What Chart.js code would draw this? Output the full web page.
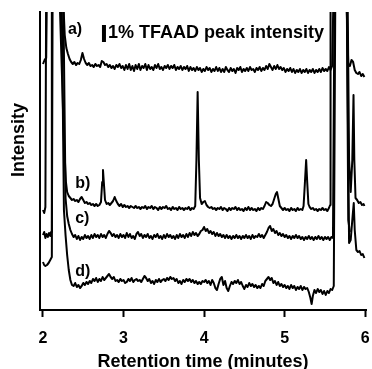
<!DOCTYPE html>
<html>
<head>
<meta charset="utf-8">
<script src="https://cdn.jsdelivr.net/npm/chart.js@4/dist/chart.umd.min.js"></script>
<style>
  body { margin: 0; background: #fff; }
  #wrap { width: 372px; height: 369px; }
</style>
</head>
<body>
<div id="wrap"><canvas id="chromChart" width="372" height="369"></canvas></div>
<script>
// Retention time (min) / intensity (arbitrary) pairs
const tickValues = [2, 3, 4, 5, 6];
const traceNames = ['a)', 'b)', 'c)', 'd)'];

const traceA = [[2.00,246],[2.02,250],[2.04,252],[2.05,330],[2.24,330],[2.27,275],[2.29,262],[2.31,256],[2.33,251],[2.35,248],[2.37,246],[2.39,248],[2.41,245],[2.43,247],[2.45,246],[2.47,250],[2.49,257],[2.51,251],[2.53,247],[2.55,245],[2.57,247],[2.59,244],[2.61,245],[2.63,243],[2.65,246],[2.67,244],[2.69,245],[2.71,243],[2.73,249],[2.75,248],[2.77,245],[2.79,246],[2.81,243],[2.83,245],[2.85,242],[2.87,244],[2.89,241],[2.91,245],[2.93,243],[2.95,246],[2.97,242],[2.99,244],[3.01,240],[3.03,245],[3.05,241],[3.07,246],[3.09,240],[3.11,244],[3.13,239],[3.15,245],[3.17,241],[3.19,246],[3.21,240],[3.23,244],[3.25,242],[3.27,246],[3.29,240],[3.31,245],[3.33,241],[3.35,243],[3.37,240],[3.39,245],[3.41,242],[3.43,246],[3.45,241],[3.47,243],[3.49,240],[3.51,244],[3.53,242],[3.55,245],[3.57,241],[3.59,244],[3.61,242],[3.63,245],[3.65,240],[3.67,243],[3.69,241],[3.71,244],[3.73,240],[3.75,243],[3.77,241],[3.79,244],[3.81,239],[3.83,243],[3.85,240],[3.87,242],[3.89,239],[3.91,243],[3.93,240],[3.95,242],[3.97,238],[3.99,241],[4.01,239],[4.03,243],[4.05,240],[4.07,242],[4.09,238],[4.11,241],[4.13,239],[4.15,243],[4.17,239],[4.19,242],[4.21,238],[4.23,241],[4.25,238],[4.27,243],[4.29,240],[4.31,238],[4.33,242],[4.35,239],[4.37,241],[4.39,237],[4.41,242],[4.43,240],[4.45,243],[4.47,238],[4.49,241],[4.51,239],[4.53,242],[4.55,239],[4.57,243],[4.59,240],[4.61,241],[4.63,238],[4.65,242],[4.67,240],[4.69,243],[4.71,239],[4.73,242],[4.75,240],[4.77,244],[4.79,241],[4.81,246],[4.83,243],[4.85,240],[4.87,244],[4.89,241],[4.91,245],[4.93,241],[4.95,243],[4.97,240],[4.99,242],[5.01,238],[5.03,241],[5.05,239],[5.07,242],[5.09,238],[5.11,241],[5.13,237],[5.15,240],[5.17,238],[5.19,241],[5.21,237],[5.23,240],[5.25,238],[5.27,241],[5.29,237],[5.31,240],[5.33,238],[5.35,241],[5.37,237],[5.39,240],[5.41,238],[5.43,241],[5.45,238],[5.47,242],[5.49,239],[5.51,241],[5.53,239],[5.55,243],[5.57,240],[5.59,244],[5.61,330],[5.76,330],[5.79,246],[5.81,244],[5.83,250],[5.85,248],[5.87,240],[5.89,237],[5.91,236],[5.93,238],[5.95,234],[5.97,236],[5.99,233]];

const traceB = [[2.00,100],[2.015,97],[2.03,103],[2.04,330],[2.20,330],[2.26,170],[2.285,128],[2.30,118],[2.32,114],[2.34,112],[2.36,110],[2.38,111],[2.40,109],[2.42,110],[2.44,108],[2.46,111],[2.48,113],[2.50,110],[2.52,107],[2.54,108],[2.56,106],[2.58,107],[2.60,105],[2.62,106],[2.64,104],[2.66,106],[2.68,104],[2.70,105],[2.72,108],[2.735,128],[2.745,140],[2.755,128],[2.77,110],[2.79,106],[2.81,107],[2.83,105],[2.85,107],[2.87,109],[2.89,113],[2.91,109],[2.93,106],[2.95,104],[2.97,106],[2.99,103],[3.01,105],[3.03,103],[3.05,104],[3.07,102],[3.09,104],[3.11,103],[3.13,102],[3.15,104],[3.17,102],[3.19,103],[3.21,101],[3.23,103],[3.25,102],[3.27,104],[3.29,101],[3.31,103],[3.33,102],[3.35,104],[3.37,101],[3.39,103],[3.41,102],[3.43,100],[3.45,103],[3.47,101],[3.49,103],[3.51,102],[3.53,104],[3.55,101],[3.57,102],[3.59,100],[3.61,103],[3.63,101],[3.65,102],[3.67,100],[3.69,103],[3.71,101],[3.73,102],[3.75,100],[3.77,102],[3.79,101],[3.81,103],[3.83,100],[3.85,102],[3.87,101],[3.89,104],[3.905,150],[3.92,218],[3.935,150],[3.95,112],[3.97,106],[3.99,108],[4.01,109],[4.03,105],[4.05,103],[4.07,102],[4.09,103],[4.11,101],[4.13,102],[4.15,100],[4.17,102],[4.19,101],[4.21,103],[4.23,100],[4.25,102],[4.27,101],[4.29,99],[4.31,102],[4.33,100],[4.35,102],[4.37,101],[4.39,103],[4.41,100],[4.43,102],[4.45,100],[4.47,101],[4.49,99],[4.51,102],[4.53,100],[4.55,103],[4.57,100],[4.59,102],[4.61,100],[4.63,101],[4.65,99],[4.67,102],[4.69,100],[4.71,102],[4.73,101],[4.75,104],[4.77,108],[4.79,107],[4.81,105],[4.83,104],[4.85,106],[4.87,111],[4.89,116],[4.905,118],[4.92,112],[4.94,104],[4.96,102],[4.98,100],[5.00,102],[5.02,100],[5.04,101],[5.06,99],[5.08,102],[5.10,100],[5.12,101],[5.14,99],[5.16,102],[5.18,100],[5.20,101],[5.22,100],[5.235,104],[5.25,125],[5.267,150],[5.28,128],[5.295,106],[5.31,103],[5.33,101],[5.35,102],[5.37,100],[5.39,101],[5.41,99],[5.43,101],[5.45,100],[5.47,102],[5.49,100],[5.51,101],[5.53,99],[5.55,102],[5.565,105],[5.57,330],[5.78,330],[5.80,150],[5.82,118],[5.84,150],[5.855,215],[5.865,150],[5.88,112],[5.90,110],[5.92,107],[5.94,108],[5.96,105],[5.98,106],[5.99,104]];

const traceC = [[2.00,75],[2.015,78],[2.03,72],[2.045,76],[2.06,73],[2.075,77],[2.09,74],[2.10,78],[2.11,330],[2.25,330],[2.28,112],[2.30,94],[2.32,86],[2.34,80],[2.36,76],[2.38,73],[2.40,75],[2.42,71],[2.44,74],[2.46,70],[2.48,73],[2.50,71],[2.52,75],[2.54,72],[2.56,74],[2.58,71],[2.60,75],[2.62,72],[2.64,76],[2.66,73],[2.68,75],[2.70,72],[2.72,76],[2.74,73],[2.76,75],[2.78,72],[2.80,76],[2.82,79],[2.84,77],[2.86,74],[2.88,76],[2.90,73],[2.92,75],[2.94,72],[2.96,76],[2.98,73],[3.00,75],[3.02,72],[3.04,77],[3.06,73],[3.08,76],[3.10,72],[3.12,74],[3.14,71],[3.16,76],[3.18,78],[3.20,74],[3.22,76],[3.24,72],[3.26,75],[3.28,73],[3.30,76],[3.32,72],[3.34,74],[3.36,71],[3.38,75],[3.40,73],[3.42,76],[3.44,72],[3.46,74],[3.48,71],[3.50,75],[3.52,72],[3.54,76],[3.56,73],[3.58,75],[3.60,72],[3.62,74],[3.64,71],[3.66,75],[3.68,72],[3.70,76],[3.72,73],[3.74,75],[3.76,72],[3.78,76],[3.80,73],[3.82,77],[3.84,74],[3.86,78],[3.88,75],[3.90,77],[3.92,74],[3.94,76],[3.96,79],[3.98,80],[4.00,83],[4.02,79],[4.04,81],[4.06,77],[4.08,79],[4.10,76],[4.12,78],[4.14,74],[4.16,77],[4.18,74],[4.20,76],[4.22,73],[4.24,75],[4.26,72],[4.28,75],[4.30,72],[4.32,74],[4.34,71],[4.36,74],[4.38,72],[4.40,75],[4.42,72],[4.44,74],[4.46,71],[4.48,74],[4.50,72],[4.52,75],[4.54,72],[4.56,74],[4.58,71],[4.60,75],[4.62,72],[4.64,74],[4.66,73],[4.68,76],[4.70,73],[4.72,75],[4.74,72],[4.76,75],[4.78,78],[4.80,82],[4.82,84],[4.84,79],[4.86,81],[4.88,77],[4.90,79],[4.92,75],[4.94,77],[4.96,74],[4.98,76],[5.00,73],[5.02,75],[5.04,72],[5.06,74],[5.08,71],[5.10,74],[5.12,72],[5.14,75],[5.16,72],[5.18,74],[5.20,71],[5.22,73],[5.24,70],[5.26,73],[5.28,71],[5.30,74],[5.32,71],[5.34,73],[5.36,70],[5.38,73],[5.40,71],[5.42,74],[5.44,71],[5.46,73],[5.48,70],[5.50,73],[5.52,71],[5.54,73],[5.56,70],[5.58,73],[5.60,72],[5.62,330],[5.77,330],[5.80,67],[5.82,70],[5.845,95],[5.858,107],[5.87,80],[5.89,60],[5.91,58],[5.93,59],[5.95,55],[5.97,56],[5.99,52]];

const traceD = [[2.00,48],[2.015,45],[2.03,44],[2.05,45],[2.07,47],[2.09,50],[2.11,53],[2.12,330],[2.23,330],[2.26,100],[2.28,75],[2.30,55],[2.32,40],[2.34,30],[2.36,25],[2.38,24],[2.40,27],[2.42,23],[2.44,25],[2.46,22],[2.48,24],[2.50,27],[2.52,25],[2.54,28],[2.56,26],[2.58,29],[2.60,27],[2.62,31],[2.64,29],[2.66,32],[2.68,28],[2.70,31],[2.72,29],[2.74,33],[2.76,30],[2.78,32],[2.80,34],[2.82,36],[2.84,33],[2.86,31],[2.88,33],[2.90,29],[2.92,30],[2.94,28],[2.96,31],[2.98,29],[3.00,30],[3.02,27],[3.04,28],[3.06,31],[3.08,29],[3.10,32],[3.12,28],[3.14,30],[3.16,31],[3.18,29],[3.20,30],[3.22,28],[3.24,31],[3.26,34],[3.28,32],[3.30,29],[3.32,31],[3.34,27],[3.36,29],[3.38,26],[3.40,30],[3.42,28],[3.44,31],[3.46,28],[3.48,30],[3.50,31],[3.52,29],[3.54,32],[3.56,30],[3.58,33],[3.60,31],[3.62,32],[3.64,29],[3.66,31],[3.68,27],[3.70,29],[3.72,26],[3.74,30],[3.76,28],[3.78,31],[3.80,29],[3.82,31],[3.84,28],[3.86,30],[3.88,27],[3.90,29],[3.92,26],[3.94,28],[3.96,26],[3.98,29],[4.00,28],[4.02,30],[4.04,27],[4.06,29],[4.08,25],[4.10,30],[4.12,27],[4.14,22],[4.16,20],[4.18,26],[4.20,31],[4.22,33],[4.24,25],[4.26,29],[4.28,22],[4.30,19],[4.32,24],[4.34,28],[4.36,26],[4.38,29],[4.40,27],[4.42,30],[4.44,26],[4.46,28],[4.48,24],[4.50,21],[4.52,25],[4.54,23],[4.56,27],[4.58,24],[4.60,26],[4.62,23],[4.64,25],[4.66,22],[4.68,24],[4.70,22],[4.72,26],[4.74,24],[4.76,29],[4.78,31],[4.80,33],[4.82,30],[4.84,32],[4.86,27],[4.88,29],[4.90,25],[4.92,28],[4.94,24],[4.96,26],[4.98,23],[5.00,25],[5.02,22],[5.04,24],[5.06,21],[5.08,25],[5.10,22],[5.12,24],[5.14,20],[5.16,23],[5.18,21],[5.20,24],[5.22,20],[5.24,23],[5.26,21],[5.28,22],[5.30,18],[5.32,12],[5.335,6],[5.35,14],[5.37,20],[5.39,17],[5.41,21],[5.43,18],[5.45,20],[5.47,16],[5.49,19],[5.51,15],[5.53,19],[5.55,17],[5.57,21],[5.59,20],[5.61,24],[5.63,330],[5.77,330],[5.79,90],[5.81,78]];

// scale bar: 1% TFAAD peak intensity (time, bottom, top in intensity units)
const scaleBar = { time: 2.757, from: 268, to: 285 };

// where the trace letters sit (data coords)
const labelPos = [
  { x: 2.31, y: 280 },
  { x: 2.40, y: 126 },
  { x: 2.40, y: 91 },
  { x: 2.40, y: 38 }
];
const FONT = '"Liberation Sans", Arial, Helvetica, sans-serif';

const annotations = {
  id: 'annotations',
  afterDatasetsDraw(chart) {
    const { ctx, scales: { x, y } } = chart;
    ctx.save();
    ctx.fillStyle = '#000';
    ctx.strokeStyle = '#000';
    ctx.textBaseline = 'middle';
    ctx.font = 'bold 16px ' + FONT;
    traceNames.forEach((name, i) => {
      ctx.fillText(name, x.getPixelForValue(labelPos[i].x), y.getPixelForValue(labelPos[i].y));
    });
    // intensity scale bar + caption
    const bx = x.getPixelForValue(scaleBar.time);
    ctx.lineWidth = 4;
    ctx.beginPath();
    ctx.moveTo(bx, y.getPixelForValue(scaleBar.from));
    ctx.lineTo(bx, y.getPixelForValue(scaleBar.to));
    ctx.stroke();
    ctx.font = 'bold 18px ' + FONT;
    ctx.fillText('1% TFAAD peak intensity', bx + 4, y.getPixelForValue((scaleBar.from + scaleBar.to) / 2));
    // y axis title
    ctx.translate(19, y.getPixelForValue(170));
    ctx.rotate(-Math.PI / 2);
    ctx.textAlign = 'center';
    ctx.fillText('Intensity', 0, 0);
    ctx.restore();
  }
};

const toPoints = arr => arr.map(p => ({ x: p[0], y: p[1] }));

new Chart(document.getElementById('chromChart'), {
  type: 'line',
  data: {
    datasets: [traceA, traceB, traceC, traceD].map((tr, i) => ({
      label: traceNames[i],
      data: toPoints(tr),
      borderColor: '#000',
      borderWidth: 2,
      borderJoinStyle: 'round',
      pointRadius: 0,
      tension: 0,
      fill: false
    }))
  },
  options: {
    responsive: false,
    animation: false,
    layout: { padding: { top: 12, right: 6, left: 0, bottom: 0 } },
    plugins: { legend: { display: false }, tooltip: { enabled: false } },
    scales: {
      x: {
        type: 'linear',
        min: 1.963,
        max: 6.01,
        afterBuildTicks: s => { s.ticks = tickValues.map(v => ({ value: v })); },
        afterFit: s => { s.height = 59; s.paddingLeft = 0; s.paddingRight = 0; },
        grid: { display: true, drawOnChartArea: false, drawTicks: true, tickLength: 7, tickWidth: 2, tickColor: '#000' },
        border: { display: true, color: '#000', width: 2 },
        ticks: { color: '#000', font: { family: FONT, size: 16, weight: 'bold' }, padding: 12, maxRotation: 0, autoSkip: false },
        title: { display: true, text: 'Retention time (minutes)', color: '#000', font: { family: FONT, size: 18, weight: 'bold', lineHeight: 0.8 }, padding: { top: 0, bottom: 0 } }
      },
      y: {
        type: 'linear',
        min: 0,
        max: 298,
        afterFit: s => { s.width = 40; },
        grid: { display: false },
        border: { display: true, color: '#000', width: 2 },
        ticks: { display: false }
      }
    }
  },
  plugins: [annotations]
});
</script>
</body>
</html>
